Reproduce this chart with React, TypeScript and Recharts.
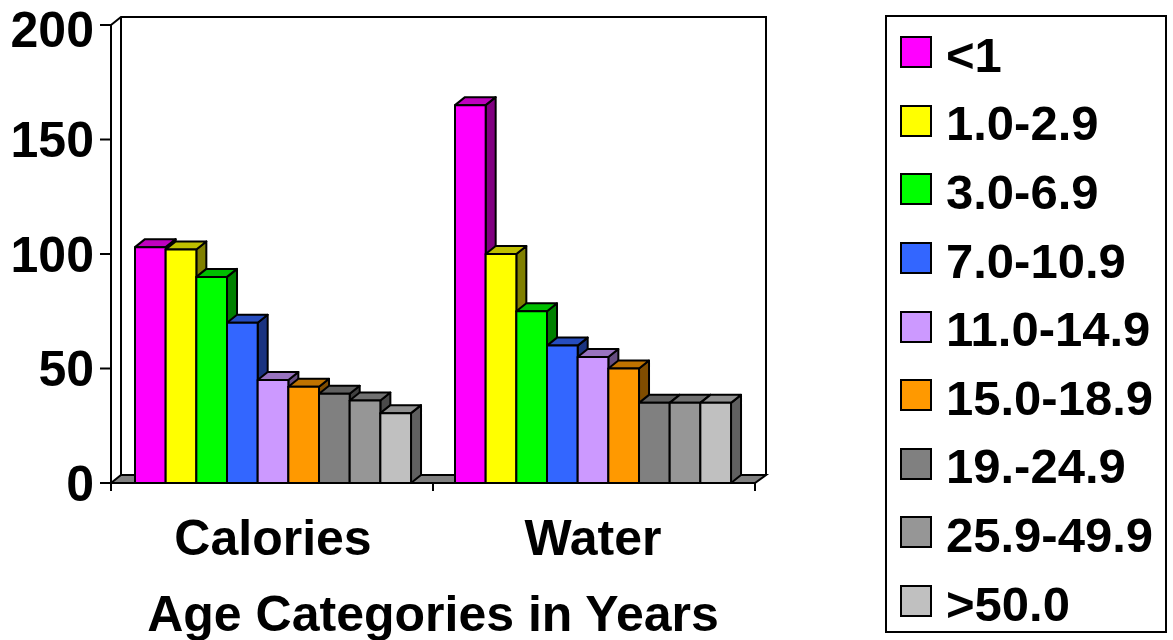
import { Bar, BarChart, Legend, XAxis, YAxis } from "recharts";

const categories = ["Calories", "Water"];
const ageGroups = ["<1", "1.0-2.9", "3.0-6.9", "7.0-10.9", "11.0-14.9", "15.0-18.9", "19.-24.9", "25.9-49.9", ">50.0"];
const colors = ["#ff00ff", "#ffff00", "#00ff00", "#3366ff", "#cc99ff", "#ff9900", "#808080", "#969696", "#c0c0c0"];
const calories = [103, 102, 90, 70, 45, 42, 39, 36, 30.5];
const water = [165, 100, 75, 60, 55, 50, 35, 35, 35];
const yTicks = [0, 50, 100, 150, 200];

const FONT = "'Liberation Sans', Arial, sans-serif";
const DX = 10;
const DY = 8;
const LEFT = 111;
const TOP = 25;
const RIGHT = 755;
const BOTTOM = 483;

const chartData = categories.map((name, c) => {
  const row: Record<string, string | number> = { name };
  ageGroups.forEach((g, i) => {
    row[g] = (c === 0 ? calories : water)[i];
  });
  return row;
});

function shade(hex: string, k: number) {
  const n = parseInt(hex.slice(1), 16);
  const ch = (s: number) => Math.round(((n >> s) & 255) * k);
  return `rgb(${ch(16)},${ch(8)},${ch(0)})`;
}

function Bar3D(props: any) {
  const { x, y, width, height, fill } = props;
  const r = x + width;
  const b = y + height;
  return (
    <g stroke="#000" strokeWidth={2} strokeLinejoin="round">
      <polygon points={`${r},${y} ${r + DX},${y - DY} ${r + DX},${b - DY} ${r},${b}`} fill={shade(fill, 0.5)} />
      <polygon points={`${x},${y} ${x + DX},${y - DY} ${r + DX},${y - DY} ${r},${y}`} fill={shade(fill, 0.75)} />
      <rect x={x} y={y} width={width} height={height} fill={fill} />
    </g>
  );
}

// back walls, floor and the x ticks, which sit between the categories
function Walls() {
  const mid = (LEFT + RIGHT) / 2;
  return (
    <g stroke="#000" strokeWidth={2} fill="none">
      <polygon
        points={`${LEFT},${BOTTOM} ${LEFT + DX},${BOTTOM - DY} ${RIGHT + DX + 1},${BOTTOM - DY} ${RIGHT},${BOTTOM}`}
        fill="#808080"
      />
      <polyline points={`${LEFT},${TOP} ${LEFT + DX},${TOP - DY} ${RIGHT + DX + 1},${TOP - DY} ${RIGHT + DX + 1},${BOTTOM - DY}`} />
      <line x1={LEFT + DX} y1={TOP - DY} x2={LEFT + DX} y2={BOTTOM - DY} />
      {[LEFT, mid, RIGHT].map((x) => (
        <line key={x} x1={x} y1={BOTTOM} x2={x} y2={BOTTOM + 8} />
      ))}
    </g>
  );
}

function LegendBox({ payload }: any) {
  return (
    <div
      style={{
        boxSizing: "border-box",
        width: 282,
        height: 618,
        border: "2px solid #000",
        paddingTop: 1,
        fontFamily: FONT,
        fontWeight: 700,
        fontSize: 49,
        color: "#000",
      }}
    >
      {(payload ?? []).map((p: any) => (
        <div key={p.value} style={{ height: 68.6, display: "flex", alignItems: "center", paddingLeft: 13 }}>
          <span
            style={{
              boxSizing: "border-box",
              width: 32,
              height: 32,
              border: "2px solid #000",
              background: p.color,
              marginRight: 14,
            }}
          />
          <span style={{ lineHeight: 1, position: "relative", top: 3 }}>{p.value}</span>
        </div>
      ))}
    </div>
  );
}

export default function App() {
  const tickStyle = { fontFamily: FONT, fontWeight: 700, fontSize: 50, fill: "#000" };
  return (
    <div style={{ position: "absolute", left: 0, top: 0, width: 1173, height: 640, background: "#fff" }}>
      <BarChart
        width={1173}
        height={640}
        data={chartData}
        barCategoryGap={22}
        barGap={0}
        barSize={30.67}
        margin={{ top: TOP, left: 0, right: 137, bottom: 0 }}
      >
        <Walls />
        <XAxis
          dataKey="name"
          height={157}
          interval={0}
          padding={{ left: 2, right: 2 }}
          stroke="#000"
          strokeWidth={2}
          tickLine={false}
          tickSize={8}
          tickMargin={28}
          tick={tickStyle}
          label={{ value: "Age Categories in Years", position: "insideBottom", offset: 9, ...tickStyle }}
        />
        <YAxis
          width={LEFT}
          domain={[0, 200]}
          ticks={yTicks}
          stroke="#000"
          strokeWidth={2}
          tickSize={11}
          tickMargin={6}
          tick={tickStyle}
        />
        <Legend
          layout="vertical"
          align="right"
          verticalAlign="top"
          itemSorter={null}
          content={<LegendBox />}
          wrapperStyle={{ left: 885, top: 15, right: "auto", width: 281 }}
        />
        {ageGroups.map((g, i) => (
          <Bar key={g} dataKey={g} fill={colors[i]} shape={<Bar3D />} isAnimationActive={false} />
        ))}
      </BarChart>
    </div>
  );
}
